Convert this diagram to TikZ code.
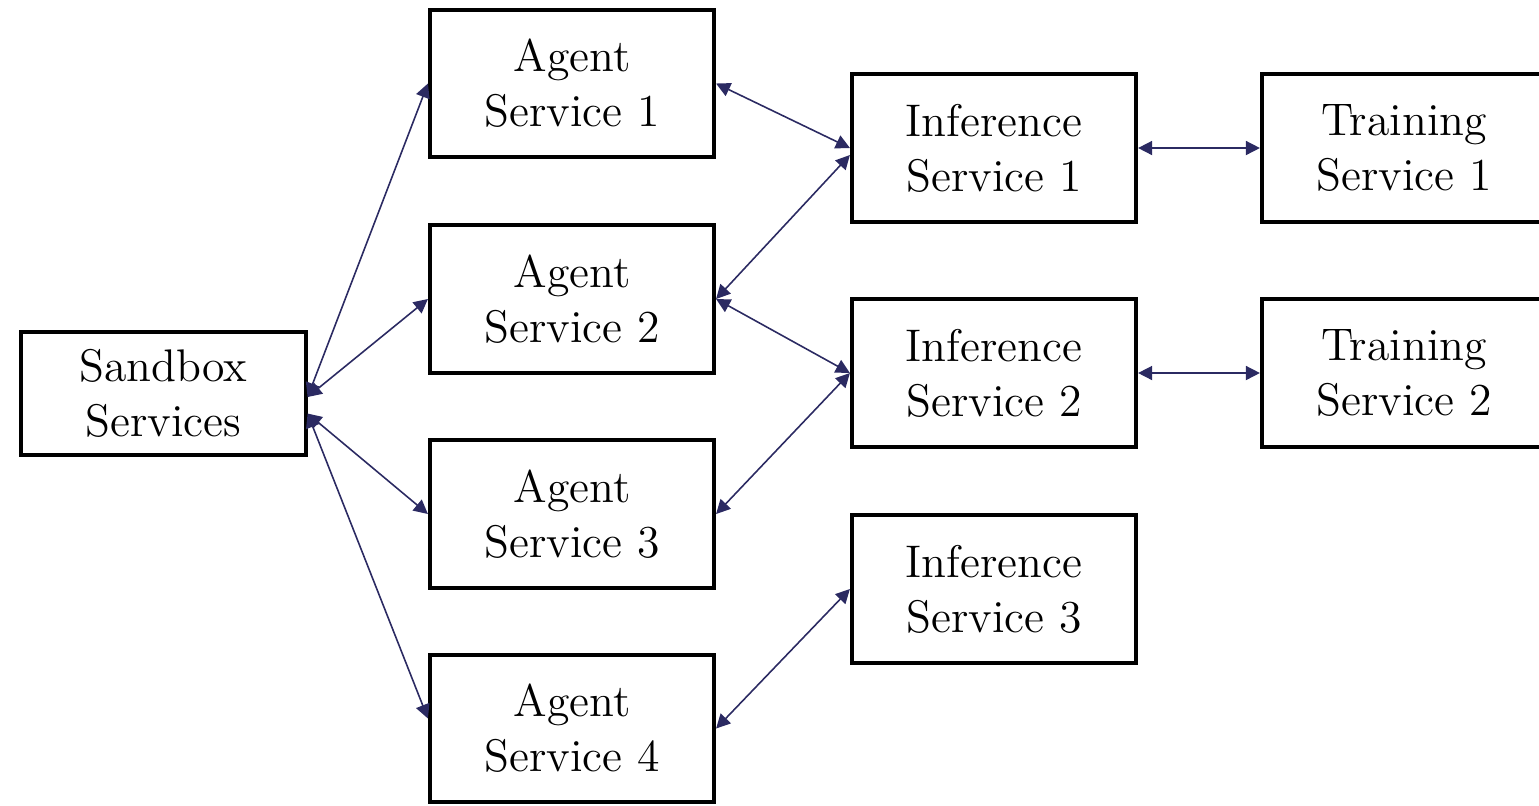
\documentclass[tikz,border=0pt]{standalone}
\usetikzlibrary{arrows.meta}
\definecolor{arrowblue}{HTML}{2B2A62}
\begin{document}
\begin{tikzpicture}[x=0.01cm,y=-0.01cm,
  box/.style={draw=black,line width=0.04cm,fill=white,minimum width=2.84cm,minimum height=1.47cm,align=center,inner sep=0pt,font=\fontsize{13}{15.6}\selectfont},
  link/.style={draw=arrowblue,line width=0.45pt,{Triangle[length=4pt,width=4pt]}-{Triangle[length=4pt,width=4pt]}}]
\useasboundingbox (0,0) rectangle (1539,805);
\clip (0,0) rectangle (1539,805);
\node[box,minimum height=1.23cm] (sb) at (163.5,393.5) {Sandbox\\Services};
\node[box] (a1) at (572,83.5) {Agent\\Service 1};
\node[box] (a2) at (572,299) {Agent\\Service 2};
\node[box] (a3) at (572,514) {Agent\\Service 3};
\node[box] (a4) at (572,728.5) {Agent\\Service 4};
\node[box] (i1) at (994,148) {Inference\\Service 1};
\node[box] (i2) at (994,373) {Inference\\Service 2};
\node[box] (i3) at (994,589) {Inference\\Service 3};
\node[box] (t1) at (1404,148) {Training\\Service 1};
\node[box] (t2) at (1404,373) {Training\\Service 2};
\coordinate (sbu) at ([yshift=-0.035cm]sb.east);
\coordinate (sbd) at ([yshift=-0.2cm]sb.east);
\draw[link] (sbu) -- (a1.west);
\draw[link] (sbu) -- (a2.west);
\draw[link] (sbd) -- (a3.west);
\draw[link] (sbd) -- ([yshift=0.1cm]a4.west);
\draw[link] (a1.east) -- (i1.west);
\draw[link] (a2.east) -- ([yshift=-0.07cm]i1.west);
\draw[link] (a2.east) -- (i2.west);
\draw[link] (a3.east) -- (i2.west);
\draw[link] (a4.east) -- (i3.west);
\draw[link] (i1.east) -- (t1.west);
\draw[link] (i2.east) -- (t2.west);
\end{tikzpicture}
\end{document}
